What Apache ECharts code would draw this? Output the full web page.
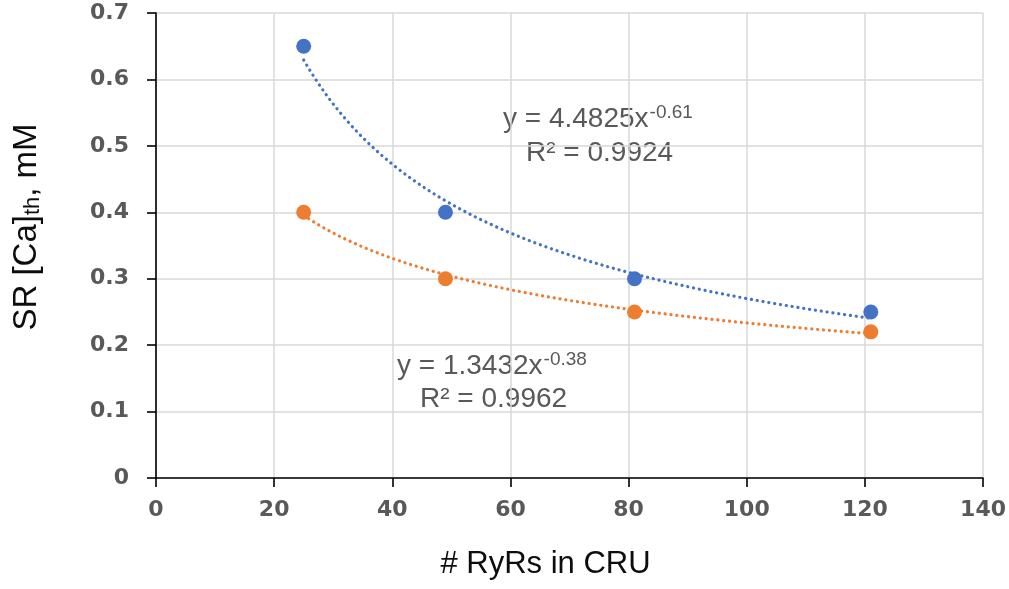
<!DOCTYPE html>
<html><head><meta charset="utf-8">
<script src="https://cdn.jsdelivr.net/npm/echarts@6/dist/echarts.min.js"></script>
<style>html,body{margin:0;padding:0;background:#fff}#c{width:1009px;height:589px}</style>
</head><body><div id="c"></div>
<script>
// Data
const ryrs = [25, 49, 81, 121];
const blueValues = [0.65, 0.40, 0.30, 0.25];
const orangeValues = [0.40, 0.30, 0.25, 0.22];
// Power trendline coefficients as displayed on the chart: y = a * x^b
const blueFit = {a: 4.4825, b: -0.61, r2: '0.9924'};
const orangeFit = {a: 1.3432, b: -0.38, r2: '0.9962'};
const xTicks = [0, 20, 40, 60, 80, 100, 120, 140];
const yTicks = [0, 0.1, 0.2, 0.3, 0.4, 0.5, 0.6, 0.7];

const BLUE = '#4472C4', ORANGE = '#ED7D31', GRAY = '#595959', DARK = '#0d0d0d';

function trend(fit, xs) {
  const lo = Math.min(...xs), hi = Math.max(...xs);
  const pts = [];
  const n = 80;
  for (let i = 0; i <= n; i++) {
    const x = lo + (hi - lo) * i / n;
    pts.push([x, fit.a * Math.pow(x, fit.b)]);
  }
  return pts;
}
const pairs = (xs, ys) => xs.map((x, i) => [x, ys[i]]);

const chart = echarts.init(document.getElementById('c'), null, {renderer: 'canvas'});
const dotted = c => ({color: c, width: 3.2, type: [0.1, 5.8], cap: 'round'});
const eqRich = {
  a: {fontFamily: 'Liberation Sans', fontSize: 28, fill: GRAY, lineHeight: 36, verticalAlign: 'bottom'},
  s: {fontFamily: 'Liberation Sans', fontSize: 19, fill: GRAY, lineHeight: 36, verticalAlign: 'top', padding: [6, 0, 0, 1]}
};

chart.setOption({
  animation: false,
  backgroundColor: '#fff',
  grid: {left: 156, right: 25, top: 13, bottom: 111},
  xAxis: {
    type: 'value', min: 0, max: 140, interval: 20,
    name: '# RyRs in CRU', nameLocation: 'middle', nameGap: 71,
    nameTextStyle: {fontFamily: 'Liberation Sans', fontSize: 31, color: DARK, padding: [0, 48, 0, 0]},
    axisLine: {show: true, onZero: false, lineStyle: {color: '#000', width: 1.6}},
    axisTick: {show: true, length: 9, inside: false, lineStyle: {color: '#000', width: 1.6}},
    axisLabel: {fontFamily: 'DejaVu Sans', fontWeight: 'bold', fontSize: 22, color: GRAY, margin: 21,
      formatter: v => xTicks.includes(v) ? String(v) : ''},
    splitLine: {show: true, lineStyle: {color: '#d9d9d9', width: 1.5}}
  },
  yAxis: {
    type: 'value', min: 0, max: 0.7, interval: 0.1,
    axisLine: {show: true, onZero: false, lineStyle: {color: '#000', width: 1.6}},
    axisTick: {show: true, length: 9, lineStyle: {color: '#000', width: 1.6}},
    axisLabel: {fontFamily: 'DejaVu Sans', fontWeight: 'bold', fontSize: 22, color: GRAY, margin: 27,
      formatter: v => { const t = yTicks.find(k => Math.abs(k - v) < 1e-9); return t === undefined ? '' : (t === 0 ? '0' : t.toFixed(1)); }},
    splitLine: {show: true, lineStyle: {color: '#d9d9d9', width: 1.5}}
  },
  series: [
    {type: 'line', data: trend(blueFit, ryrs), showSymbol: false, symbol: 'none', lineStyle: dotted(BLUE), z: 2, silent: true},
    {type: 'line', data: trend(orangeFit, ryrs), showSymbol: false, symbol: 'none', lineStyle: dotted(ORANGE), z: 2, silent: true},
    {type: 'scatter', data: pairs(ryrs, blueValues), symbol: 'circle', symbolSize: 15, itemStyle: {color: BLUE, opacity: 1}, z: 3},
    {type: 'scatter', data: pairs(ryrs, orangeValues), symbol: 'circle', symbolSize: 15, itemStyle: {color: ORANGE, opacity: 1}, z: 3}
  ],
  graphic: [
    {type: 'text', x: 27, y: 227, rotation: Math.PI / 2, style: {
      text: '{a|SR [Ca]}{s|th}{a|, mM}', align: 'center', verticalAlign: 'middle',
      rich: {
        a: {fontFamily: 'Liberation Sans', fontSize: 33, fill: DARK, lineHeight: 40, verticalAlign: 'middle'},
        s: {fontFamily: 'Liberation Sans', fontSize: 22, fill: DARK, lineHeight: 40, verticalAlign: 'bottom', padding: [0, 0, 3, 0]}
      }}},
    {type: 'text', left: 503, top: 97, style: {text: '{a|y = ' + blueFit.a + 'x}{s|' + blueFit.b + '}', rich: eqRich}},
    {type: 'text', left: 526, top: 139, style: {text: 'R² = ' + blueFit.r2, fontFamily: 'Liberation Sans', fontSize: 28, fill: GRAY}},
    {type: 'text', left: 397, top: 344, style: {text: '{a|y = ' + orangeFit.a + 'x}{s|' + orangeFit.b + '}', rich: eqRich}},
    {type: 'text', left: 420, top: 385, style: {text: 'R² = ' + orangeFit.r2, fontFamily: 'Liberation Sans', fontSize: 28, fill: GRAY}}
  ]
});
</script></body></html>
